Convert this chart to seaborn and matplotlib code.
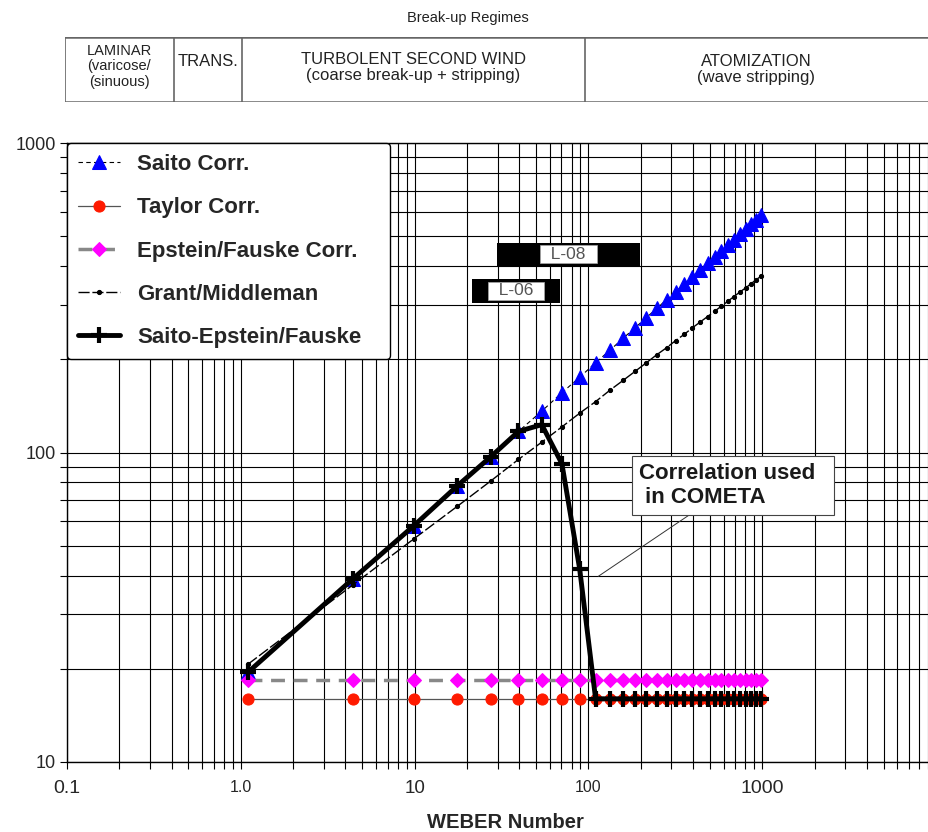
import matplotlib
matplotlib.use('Agg')

import pandas as pd
import seaborn as sns
from matplotlib import pyplot as plt
from matplotlib.ticker import NullFormatter

# Weber numbers of the correlation points (same grid for every series)
WEBER = [1.1, 4.4, 9.9, 17.6, 27.5, 39.6, 53.9, 70.4, 89.1, 110,
         133.1, 158.4, 185.9, 215.6, 247.5, 281.6, 317.9, 356.4, 397.1, 440,
         485.1, 532.4, 581.9, 633.6, 687.5, 743.6, 801.9, 862.4, 925.1, 990]

SAITO = [19.5, 39, 58, 78, 97, 117, 136, 156, 175, 195,
         214, 234, 253, 273, 292, 312, 331, 351, 370, 390,
         409, 429, 448, 468, 487, 507, 526, 546, 565, 585]

TAYLOR = [16, 16, 16, 16, 16, 16, 16, 16, 16, 16,
          16, 16, 16, 16, 16, 16, 16, 16, 16, 16,
          16, 16, 16, 16, 16, 16, 16, 16, 16, 16]

EPSTEIN_FAUSKE = [18.4, 18.4, 18.4, 18.4, 18.4, 18.4, 18.4, 18.4, 18.4, 18.4,
                  18.4, 18.4, 18.4, 18.4, 18.4, 18.4, 18.4, 18.4, 18.4, 18.4,
                  18.4, 18.4, 18.4, 18.4, 18.4, 18.4, 18.4, 18.4, 18.4, 18.4]

GRANT_MIDDLEMAN = [20.7, 37.3, 52.6, 67, 81, 95, 108, 121, 134, 146,
                   159, 171, 183, 195, 207, 218, 230, 241, 253, 264,
                   275, 286, 297, 308, 319, 330, 340, 351, 362, 372]

SAITO_EF = [19.5, 39, 58, 78, 97, 117, 123, 92, 42, 16,
            16, 16, 16, 16, 16, 16, 16, 16, 16, 16,
            16, 16, 16, 16, 16, 16, 16, 16, 16, 16]

# experimental ranges (We from/to, L/D from/to)
TEST_NAMES = ['L-08', 'L-06']
TEST_WE = [(29.6, 199), (21.3, 69)]
TEST_LD = [(401, 476), (305, 364)]

# break-up regimes table
REGIME_EDGES = [0.1, 0.42, 1.04, 96, 8900]
REGIME_LABELS = ['LAMINAR\n(varicose/\n(sinuous)', 'TRANS.',
                 'TURBOLENT SECOND WIND\n(coarse break-up + stripping)',
                 'ATOMIZATION\n(wave stripping)']

X_TICKS = [0.1, 1, 10, 100, 1000]
X_TICK_LABELS = ['0.1', '1.0', '10', '100', '1000']
Y_TICKS = [10, 100, 1000]
Y_TICK_LABELS = ['10', '100', '1000']


def main():
    sns.set_style('white')
    plt.rcParams['font.family'] = ['Liberation Sans', 'DejaVu Sans']

    fig = plt.figure(figsize=(9.29, 8.32), dpi=100)
    ax = fig.add_axes([67 / 929, 1 - 762 / 832, (936 - 67) / 929, (762 - 143) / 832])
    ax.set_xscale('log')
    ax.set_yscale('log')

    df = pd.DataFrame({'WE': WEBER, 'SAITO': SAITO, 'TAYLOR': TAYLOR, 'EF': EPSTEIN_FAUSKE,
                       'GM': GRANT_MIDDLEMAN, 'SEF': SAITO_EF})

    sns.lineplot(x='WE', y='SAITO', data=df, ax=ax, label='Saito Corr.', color='black',
                 lw=0.8, linestyle=(0, (4, 3)), marker='^', markersize=10,
                 markerfacecolor='#0000ff', markeredgecolor='#0000ff', zorder=4)
    sns.lineplot(x='WE', y='TAYLOR', data=df, ax=ax, label='Taylor Corr.', color='#555555',
                 lw=0.9, marker='o', markersize=8,
                 markerfacecolor='#ff1a00', markeredgecolor='#ff1a00', zorder=3)
    sns.lineplot(x='WE', y='EF', data=df, ax=ax, label='Epstein/Fauske Corr.', color='#888888',
                 lw=2.5, linestyle=(0, (4, 2.5)), marker='D', markersize=7,
                 markerfacecolor='#ff00ff', markeredgecolor='#ff00ff', zorder=5)
    sns.lineplot(x='WE', y='GM', data=df, ax=ax, label='Grant/Middleman', color='black',
                 lw=1.0, linestyle=(0, (8, 2)), marker='o', markersize=3,
                 markerfacecolor='black', markeredgecolor='black', zorder=4)
    sns.lineplot(x='WE', y='SEF', data=df, ax=ax, label='Saito-Epstein/Fauske', color='black',
                 lw=3.5, marker='+', markersize=11, markeredgewidth=3,
                 markeredgecolor='black', zorder=6)

    # experiment ranges
    for name, (x0, x1), (y0, y1) in zip(TEST_NAMES, TEST_WE, TEST_LD):
        ax.fill_between([x0, x1], y0, y1, color='black', lw=0, zorder=3)
        ax.text((x0 * x1) ** 0.5, (y0 * y1) ** 0.5, '  ' + name + '  ', ha='center', va='center',
                fontsize=12.5, color='#555555', zorder=4,
                bbox=dict(boxstyle='square,pad=0.08', fc='white', ec='#aaaaaa', lw=0.5))

    ax.annotate('Correlation used  \n in COMETA', xy=(114, 39.8), xytext=(680, 78.3),
                ha='center', va='center', multialignment='left', fontsize=16, fontweight='bold',
                color='#1a1a1a', zorder=7,
                bbox=dict(boxstyle='square,pad=0.3', fc='white', ec='#444444', lw=0.8),
                arrowprops=dict(arrowstyle='-', color='#333333', lw=0.7, shrinkA=0, shrinkB=0))

    ax.set_xlim(0.1, 10000)
    ax.set_ylim(10, 1000)
    ax.grid(True, which='both', color='black', lw=0.8)
    ax.set_axisbelow(True)
    ax.set_xticks(X_TICKS, X_TICK_LABELS)
    ax.set_yticks(Y_TICKS, Y_TICK_LABELS)
    ax.xaxis.set_minor_formatter(NullFormatter())
    ax.yaxis.set_minor_formatter(NullFormatter())
    ax.tick_params(which='both', direction='out', length=5, width=0.8, color='black',
                   labelsize=13, pad=3, bottom=True, left=True)
    ax.tick_params(axis='x', pad=8)
    for lab, size in zip(ax.get_xticklabels(), [14, 11.5, 13.5, 11.5, 14]):
        lab.set_fontsize(size)
    for s in ax.spines.values():
        s.set_color('black')
        s.set_linewidth(1.0)
    ax.set_xlabel('WEBER Number', fontsize=14.5, fontweight='bold', va='center')
    ax.xaxis.set_label_coords((505 - 67) / 869, (762 - 822) / 619)
    ax.set_ylabel('')

    ax.legend(loc='upper left', bbox_to_anchor=(0, 1, (390 - 67) / 869, 0), mode='expand',
              borderaxespad=0, frameon=True, fancybox=True, framealpha=1, edgecolor='black',
              prop=dict(weight='bold', size=16), handlelength=1.9, handletextpad=0.75,
              labelspacing=1.0, borderpad=0.5).set_zorder(10)

    # regimes table on top
    tax = fig.add_axes([65 / 929, 1 - 102 / 832, (936 - 65) / 929, 65 / 832])
    tax.set_xscale('log')
    tax.set_xlim(0.1, 10000)
    tax.set_ylim(0, 1)
    tax.axis('off')
    tax.axhline(1, color='#666666', lw=1.8)
    tax.axhline(0, color='#666666', lw=1.8)
    for e in REGIME_EDGES[:-1]:
        tax.axvline(e, color='#666666', lw=1.2)
    sizes = [10.5, 12, 12, 12]
    ys = [0.55, 0.62, 0.53, 0.5]
    for i, lab in enumerate(REGIME_LABELS):
        xc = (REGIME_EDGES[i] * REGIME_EDGES[i + 1]) ** 0.5
        tax.text(xc, ys[i], lab, ha='center', va='center', fontsize=sizes[i],
                 color='#222222', linespacing=1.15)
    fig.text(468 / 929, 1 - 18 / 832, 'Break-up Regimes', ha='center', va='center', fontsize=10.5,
             color='#222222')

    fig.savefig('out.png', dpi=100)


if __name__ == '__main__':
    main()
